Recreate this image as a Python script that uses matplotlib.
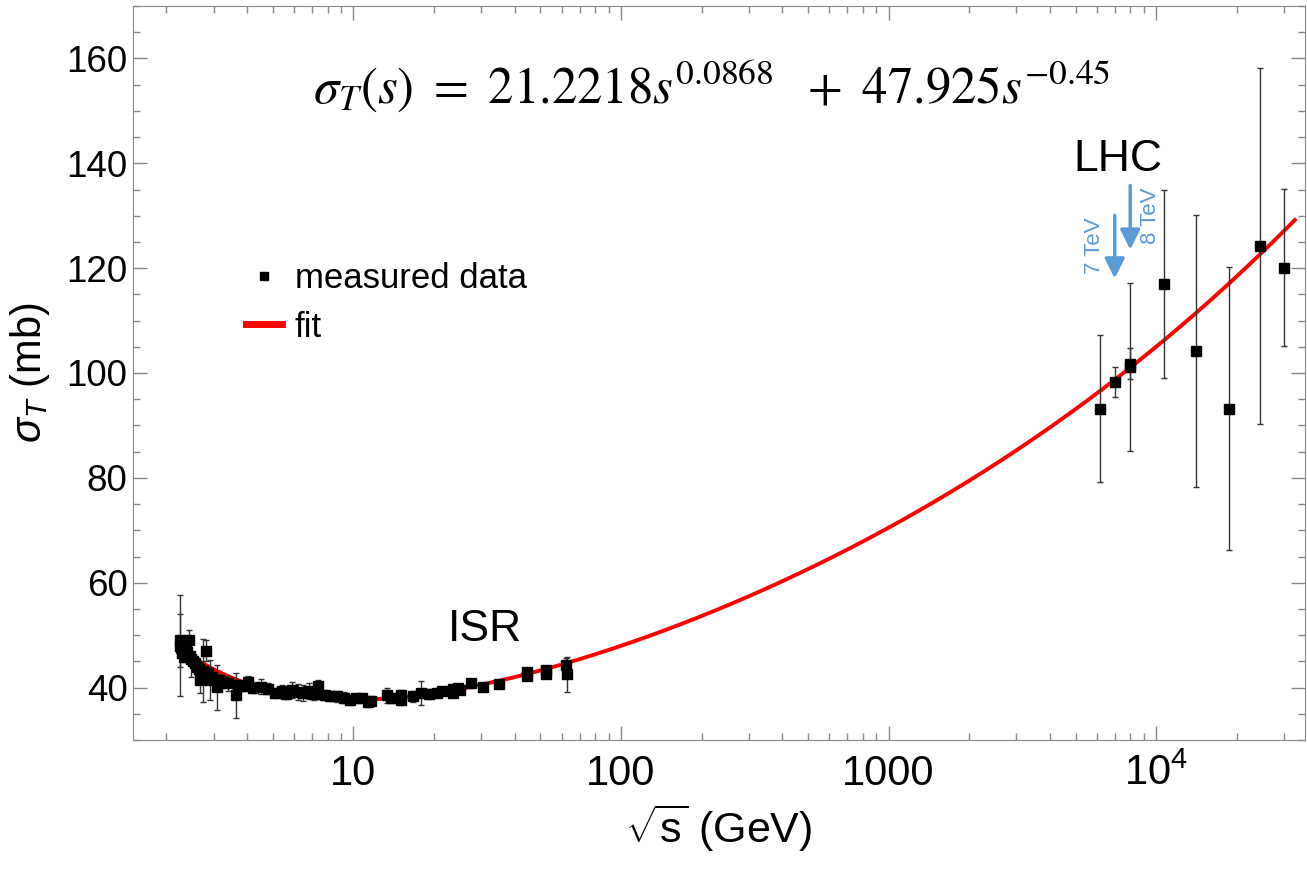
import numpy as np
import matplotlib
matplotlib.use("Agg")
import matplotlib.pyplot as plt
from matplotlib.lines import Line2D
from matplotlib.ticker import FixedLocator, FuncFormatter, MultipleLocator

plt.rcParams['font.family'] = ['Liberation Sans', 'DejaVu Sans']
plt.rcParams['mathtext.fontset'] = 'custom'
plt.rcParams['mathtext.rm'] = 'Liberation Sans'
plt.rcParams['mathtext.it'] = 'Liberation Sans:italic'

# low-energy + ISR measurements: sqrt(s) [GeV], sigma_T [mb], error [mb]
low_sqrts = [2.24, 2.24, 2.26, 2.28, 2.30, 2.32, 2.35, 2.38, 2.42, 2.45, 2.48, 2.52,
             2.56, 2.60, 2.64, 2.68, 2.75, 2.80, 2.85, 2.90, 2.95, 3.08, 3.15, 3.25,
             3.40, 3.63, 3.70, 3.85, 4.02, 4.20, 4.53, 4.80, 5.10, 5.40, 5.60, 5.90,
             6.20, 6.50, 6.80, 7.10, 7.40, 7.80, 8.20, 8.70, 9.20, 9.70, 10.2, 10.8,
             11.3, 11.6, 13.4, 13.8, 15.1, 15.1, 16.7, 17.9, 19.2, 20.5, 21.5, 23.5,
             23.5, 24.5, 25.0, 27.5, 30.4, 35.0, 44.6, 44.6, 52.4, 52.4, 62.3, 62.9]
low_sigma = [48.0, 49.0, 47.5, 46.5, 48.5, 45.8, 47.8, 46.8, 49.0, 46.0, 45.5, 45.0,
             44.6, 44.0, 43.6, 41.5, 43.2, 47.0, 42.8, 41.5, 42.0, 40.1, 41.5, 41.0,
             40.8, 38.5, 40.5, 40.3, 41.0, 40.0, 40.2, 39.8, 39.0, 39.3, 38.8, 39.5,
             39.2, 39.0, 39.3, 38.7, 40.3, 38.6, 38.4, 38.3, 38.1, 37.6, 38.0, 38.0,
             37.2, 37.5, 38.5, 38.0, 37.6, 38.6, 38.3, 39.0, 38.8, 39.0, 39.4, 39.7,
             39.0, 40.0, 39.6, 40.8, 40.2, 40.6, 42.3, 43.0, 42.5, 43.3, 44.4, 42.5]
low_err = [9.6, 5.0, 1.5, 1.2, 1.2, 1.0, 1.0, 1.0, 2.0, 1.0, 3.5, 1.0,
           1.0, 1.0, 1.0, 2.5, 6.0, 2.0, 1.0, 3.8, 1.0, 4.3, 1.0, 1.0,
           1.5, 4.3, 1.0, 1.0, 1.3, 1.0, 1.5, 1.0, 1.0, 1.2, 1.0, 1.5,
           1.5, 1.5, 1.5, 1.0, 1.2, 1.0, 1.0, 1.0, 1.0, 1.0, 0.5, 0.5,
           1.0, 0.8, 1.4, 1.0, 1.0, 1.0, 1.0, 2.3, 1.0, 0.8, 0.5, 0.5,
           0.5, 0.5, 0.5, 0.9, 0.5, 0.5, 0.5, 0.5, 0.5, 0.5, 1.3, 3.4]

# LHC / cosmic-ray points
high_sqrts = [6170, 7020, 7980, 8000, 10720, 14060, 18670, 24500, 29970]
high_sigma = [93.2, 98.3, 101.8, 101.2, 117.0, 104.2, 93.2, 124.2, 120.1]
high_err = [14.0, 2.8, 3.0, 16.0, 18.0, 26.0, 27.0, 34.0, 15.0]

# fit parameters shown on the chart
fit_a, fit_p = 21.2218, 0.0868
fit_b, fit_q = 47.925, -0.45
fit_range = (2.2, 33000)

xticks = [10, 100, 1000, 10000]
xtick_labels = ['10', '100', '1000', '$10^4$']
yticks = [40, 60, 80, 100, 120, 140, 160]

fig = plt.figure(figsize=(13.07, 8.69), dpi=100)
ax = fig.add_axes([133/1307, 1 - 740/869, (1305 - 133)/1307, (740 - 6)/869])

x_all = list(low_sqrts) + list(high_sqrts)
y_all = list(low_sigma) + list(high_sigma)
e_all = list(low_err) + list(high_err)
ax.errorbar(x_all, y_all, yerr=e_all, fmt='s', color='black', ms=7,
            ecolor='#333333', elinewidth=1.0, capsize=2, capthick=1.0, zorder=3)

xs = np.logspace(np.log10(fit_range[0]), np.log10(fit_range[1]), 400)
s = xs ** 2
ax.plot(xs, fit_a * s ** fit_p + fit_b * s ** fit_q, color='#ff0000', lw=2.8, zorder=2)

ax.set_xscale('log')
ax.set_xlim(1.5, 36000)
ax.set_ylim(30, 170)

ax.xaxis.set_major_locator(FixedLocator(xticks))
ax.xaxis.set_major_formatter(FuncFormatter(lambda v, p: xtick_labels[xticks.index(round(v))] if round(v) in xticks else ''))
ax.yaxis.set_major_locator(FixedLocator(yticks))
ax.yaxis.set_minor_locator(MultipleLocator(5))

for sp in ax.spines.values():
    sp.set_color('#888888')
ax.tick_params(which='both', direction='in', top=True, right=True, color='#888888')
ax.tick_params(which='major', length=10, width=1)
ax.tick_params(which='minor', length=5, width=1)
ax.tick_params(axis='y', labelsize=26.5, pad=4)
ax.tick_params(axis='x', labelsize=30, pad=10)

ax.set_xlabel(r'$\sqrt{\mathrm{s}}$ (GeV)', fontsize=31, labelpad=6)
ax.set_ylabel(r'$\sigma_T$ (mb)', fontsize=30, labelpad=10)

ax.text(0.494, 0.892, r'$\sigma_T(s)\ =\ 21.2218s^{0.0868}\ \ +\ 47.925s^{-0.45}$',
        transform=ax.transAxes, ha='center', va='center', fontsize=36.5, math_fontfamily='stix')

ax.text(7210, 140.8, 'LHC', fontsize=32, ha='center', va='center')
ax.text(31, 51.0, 'ISR', fontsize=32, ha='center', va='center')

blue = '#5b9bd5'
ax.annotate('', xy=(7000, 117.5), xytext=(7000, 130.6),
            arrowprops=dict(arrowstyle='-|>', color=blue, lw=2.5, mutation_scale=30))
ax.annotate('', xy=(8000, 123.0), xytext=(8000, 136.3),
            arrowprops=dict(arrowstyle='-|>', color=blue, lw=2.5, mutation_scale=30))
ax.text(5875, 124.2, '7 TeV', rotation=90, color=blue, fontsize=16, ha='center', va='center')
ax.text(9510, 129.9, '8 TeV', rotation=90, color=blue, fontsize=16, ha='center', va='center')

handles = [Line2D([], [], marker='s', color='black', ls='none', ms=6),
           Line2D([], [], color='#ff0000', lw=5)]
fig.legend(handles, ['measured data', 'fit'], loc='upper left', bbox_to_anchor=(246/1307, 1 - 262/869),
           frameon=False, fontsize=25, handlelength=1.05, handletextpad=0.35,
           labelspacing=0.45, borderpad=0, borderaxespad=0)

fig.savefig('out.png', dpi=100)
